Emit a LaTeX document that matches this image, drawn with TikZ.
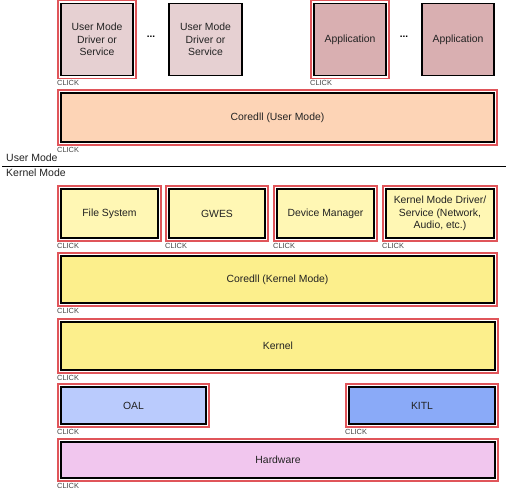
\documentclass[tikz,border=0pt]{standalone}
\usepackage{fontspec}
\setmainfont{Liberation Sans}
\setsansfont{Liberation Sans}
\definecolor{cumd}{HTML}{E6D0D2}
\definecolor{capp}{HTML}{D9AFB1}
\definecolor{ccdu}{HTML}{FDD4B6}
\definecolor{ckl}{HTML}{FFF7B4}
\definecolor{ckd}{HTML}{FCEF8C}
\definecolor{coal}{HTML}{BACBFD}
\definecolor{ckitl}{HTML}{8AAAF8}
\definecolor{chw}{HTML}{F1C6EE}
\definecolor{cred}{HTML}{E0555A}
\definecolor{ctxt}{HTML}{222222}
\definecolor{cclick}{HTML}{444444}
\tikzset{
  box/.style={draw=black, line width=1.3pt, align=center, inner sep=0pt,
    outer sep=0pt, text=ctxt, font=\fontsize{10.4}{12.6}\selectfont},
  redframe/.style={draw=cred, line width=1.2pt},
  clicklbl/.style={anchor=north west, inner sep=0pt, text=cclick,
    font=\fontsize{7.4}{8}\selectfont},
  modelbl/.style={anchor=base west, inner sep=0pt, text=ctxt,
    font=\fontsize{10.5}{12}\selectfont},
  dotslbl/.style={inner sep=0pt, font=\bfseries\fontsize{10}{12}\selectfont},
}
\newcommand{\redbox}[2]{%
  \draw[redframe] ([xshift=-3pt,yshift=3pt]#1.north west) rectangle ([xshift=3pt,yshift=-3pt]#1.south east);
  \node[clicklbl] (#2) at ([xshift=-4pt,yshift=-5pt]#1.south west) {CLICK};}
\begin{document}
\begin{tikzpicture}[x=1pt,y=-1pt]
\useasboundingbox (0,0) rectangle (508,490);
% user mode
\node[box, fill=cumd, minimum width=72, minimum height=72] (umd1) at (97,39.5) {User Mode\\Driver or\\Service};
\node[box, fill=cumd, minimum width=73, minimum height=72] (umd2) at (205.5,39.5) {User Mode\\Driver or\\Service};
\node[box, fill=capp, minimum width=72, minimum height=72] (app1) at (350,39.5) {Application};
\node[box, fill=capp, minimum width=72, minimum height=72] (app2) at (458,39.5) {Application};
\node[dotslbl] (dots1) at (151,37) {...};
\node[dotslbl] (dots2) at (404,37) {...};
\node[box, fill=ccdu, minimum width=433, minimum height=49] (cdu) at (277.5,117.5) {Coredll (User Mode)};
\redbox{umd1}{cl1}
\redbox{app1}{cl2}
\redbox{cdu}{cl3}
% divider
\node[modelbl] (um) at (6,161) {User Mode};
\coordinate (lineL) at (2,166);
\coordinate (lineR) at (506,166);
\draw[line width=1pt, black] (lineL) -- (lineR);
\node[modelbl] (km) at (6,176) {Kernel Mode};
% kernel mode
\node[box, fill=ckl, minimum width=97, minimum height=49] (fs) at (109.5,213.5) {File System};
\node[box, fill=ckl, minimum width=96, minimum height=49] (gwes) at (217,213.5) {GWES};
\node[box, fill=ckl, minimum width=97, minimum height=49] (dm) at (325.5,213.5) {Device Manager};
\node[box, fill=ckl, minimum width=108, minimum height=49] (kmd) at (440,213.5) {Kernel Mode Driver/\\Service (Network,\\Audio, etc.)};
\node[box, fill=ckd, minimum width=433, minimum height=47] (cdk) at (277.5,279.5) {Coredll (Kernel Mode)};
\node[box, fill=ckd, minimum width=434, minimum height=48] (kern) at (278,346) {Kernel};
\node[box, fill=coal, minimum width=145, minimum height=37] (oal) at (133.5,405.5) {OAL};
\node[box, fill=ckitl, minimum width=146, minimum height=37] (kitl) at (422,405.5) {KITL};
\node[box, fill=chw, minimum width=434, minimum height=36] (hw) at (278,460) {Hardware};
\redbox{fs}{cl4}
\redbox{gwes}{cl5}
\redbox{dm}{cl6}
\redbox{kmd}{cl7}
\redbox{cdk}{cl8}
\redbox{kern}{cl9}
\redbox{oal}{cl10}
\redbox{kitl}{cl11}
\redbox{hw}{cl12}
\end{tikzpicture}
\end{document}
